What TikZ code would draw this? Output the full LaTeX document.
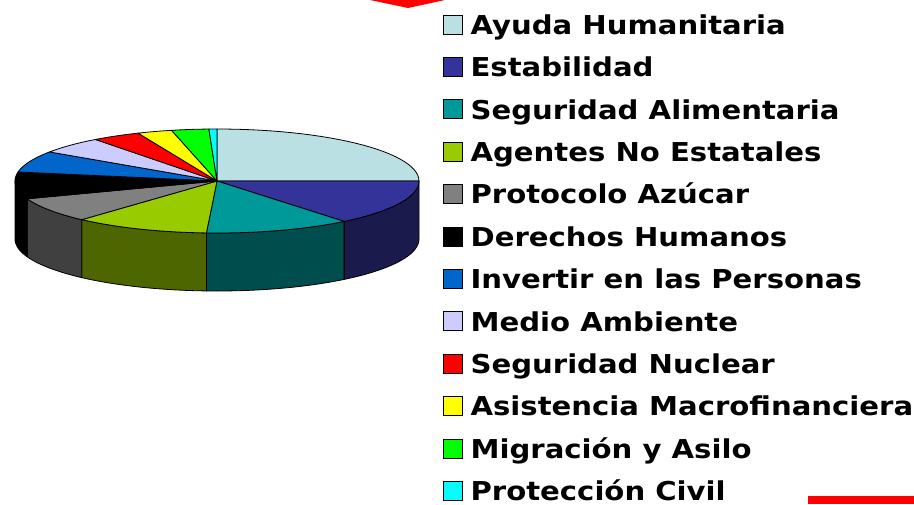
\documentclass[tikz,border=0pt]{standalone}
\usepackage{fontspec}
\setmainfont[FakeStretch=1.12]{DejaVu Sans}
\usetikzlibrary{positioning}

\definecolor{cAyuda}{HTML}{BBE0E3}
\definecolor{cEstab}{HTML}{333399}
\definecolor{cEstabS}{HTML}{1A1A4D}
\definecolor{cSegAl}{HTML}{009999}
\definecolor{cSegAlS}{HTML}{004D4D}
\definecolor{cAgentes}{HTML}{99CC00}
\definecolor{cAgentesS}{HTML}{4D6600}
\definecolor{cProto}{HTML}{808080}
\definecolor{cProtoS}{HTML}{404040}
\definecolor{cDerechos}{HTML}{000000}
\definecolor{cInvertir}{HTML}{0066CC}
\definecolor{cMedio}{HTML}{CCCCFF}
\definecolor{cNuclear}{HTML}{FF0000}
\definecolor{cMacro}{HTML}{FFFF00}
\definecolor{cMigra}{HTML}{00FF00}
\definecolor{cCivil}{HTML}{00FFFF}

% pie geometry (centre, radii, depth)
\def\cx{217}\def\cy{181}\def\rx{202}\def\ry{52}\def\dz{58}

\tikzset{
  edge/.style={draw=black, line width=0.8pt, line join=round},
  key/.style={rectangle, draw=black, line width=0.8pt, minimum size=19pt, inner sep=0pt},
  lbl/.style={font=\bfseries\fontsize{26}{26}\selectfont, inner sep=0pt, text height=19.5pt, text depth=0pt}
}

\begin{document}
\begin{tikzpicture}[x=1pt, y=-1pt]
  \useasboundingbox (0,0) rectangle (914,504);
  \fill[white] (0,0) rectangle (914,504);

  % red marks
  \fill[red] (370,0) -- (445,0) -- (408,8) -- cycle;
  \fill[red] (808,496) rectangle (914,504);

  % side walls of the pie
  \foreach \a/\b/\c in {0/-51/cEstabS, -51/-93/cSegAlS, -93/-132/cAgentesS,
                        -132/-160/cProtoS, -160/-180/cDerechos} {
    \filldraw[edge, fill=\c]
      plot[domain=\a:\b, samples=30] ({\cx+\rx*cos(\x)}, {\cy-\ry*sin(\x)})
      -- plot[domain=\b:\a, samples=30] ({\cx+\rx*cos(\x)}, {\cy+\dz-\ry*sin(\x)})
      -- cycle;
  }

  % top of the pie
  \foreach \a/\b/\c in {90/0/cAyuda, 0/-51/cEstab, -51/-93/cSegAl, -93/-132/cAgentes,
                        -132/-160/cProto, -160/-190/cDerechos, -190/-214/cInvertir,
                        -214/-233/cMedio, -233/-247/cNuclear, -247/-257/cMacro,
                        -257/-267.7/cMigra, -267.7/-270/cCivil} {
    \filldraw[edge, fill=\c] (\cx,\cy)
      -- plot[domain=\a:\b, samples=30] ({\cx+\rx*cos(\x)}, {\cy-\ry*sin(\x)})
      -- cycle;
  }

  % legend
  \foreach \n/\c/\t in {1/cAyuda/Ayuda Humanitaria, 2/cEstab/Estabilidad,
                        3/cSegAl/Seguridad Alimentaria, 4/cAgentes/Agentes No Estatales,
                        5/cProto/Protocolo Azúcar, 6/cDerechos/Derechos Humanos,
                        7/cInvertir/Invertir en las Personas, 8/cMedio/Medio Ambiente,
                        9/cNuclear/Seguridad Nuclear, 10/cMacro/Asistencia Macrofinanciera,
                        11/cMigra/Migración y Asilo, 12/cCivil/Protección Civil} {
    \node[key, fill=\c] (s\n) at (452.5, {24.5+42.4*(\n-1)}) {};
    \node[lbl, right=8pt of s\n] (t\n) {\t};
  }
\end{tikzpicture}
\end{document}
